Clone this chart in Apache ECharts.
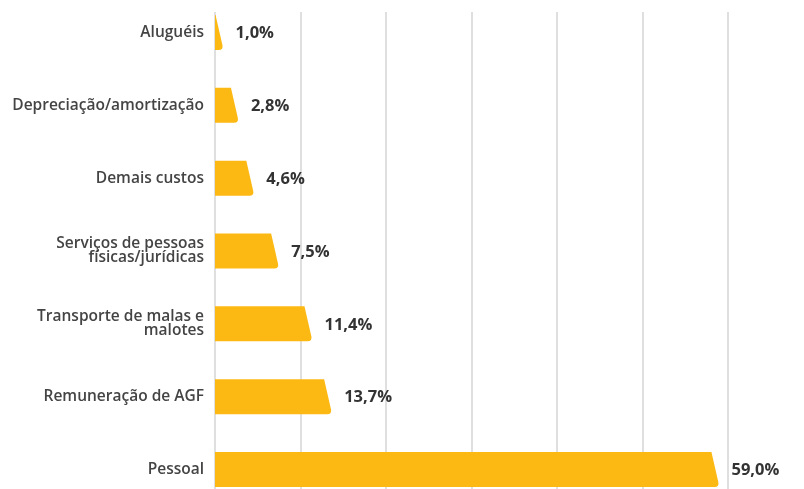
<!DOCTYPE html>
<html>
<head>
<meta charset="utf-8">
<script src="https://cdn.jsdelivr.net/npm/echarts@6/dist/echarts.min.js"></script>
<style>html,body{margin:0;padding:0;background:#fff;overflow:hidden;width:804px;height:489px;position:relative;}#c{position:absolute;left:0;top:-4px;width:804px;height:520px;}</style>
</head>
<body>
<div id="c"></div>
<script>
const categories = [
  'Aluguéis',
  'Depreciação/amortização',
  'Demais custos',
  'Serviços de pessoas\nfísicas/jurídicas',
  'Transporte de malas e\nmalotes',
  'Remuneração de AGF',
  'Pessoal'
];
const values = [1.0, 2.8, 4.6, 7.5, 11.4, 13.7, 59.0];
const xTicks = [0, 10, 20, 30, 40, 50, 60];

const chart = echarts.init(document.getElementById('c'), null, {renderer: 'canvas'});
const BAR_COLOR = '#FDB913';

function renderItem(params, api) {
  const cat = api.value(0);
  const val = api.value(1);
  const start = api.coord([0, cat]);
  const end = api.coord([val, cat]);
  const h = 35;
  const top = start[1] - h / 2;
  const bottom = start[1] + h / 2;
  const x0 = start[0];
  const xe = end[0];
  const s = Math.min(8, xe - x0);
  const r = 5;
  const xr = xe - s * r / h;
  const path = 'M' + x0 + ' ' + top +
    ' L' + (xe - s) + ' ' + top +
    ' L' + xr + ' ' + (bottom - r) +
    ' Q' + xe + ' ' + bottom + ' ' + (xe - r) + ' ' + bottom +
    ' L' + x0 + ' ' + bottom + ' Z';
  return {
    type: 'group',
    children: [
      {
        type: 'path',
        shape: {pathData: path},
        style: {fill: BAR_COLOR}
      },
      {
        type: 'text',
        x: xe + 12,
        y: start[1] + 1,
        style: {
          text: val.toFixed(1).replace('.', ',') + '%',
          font: 'bold 16.5px "Open Sans", sans-serif',
          fill: '#333',
          verticalAlign: 'middle',
          align: 'left'
        }
      }
    ]
  };
}

chart.setOption({
  animation: false,
  backgroundColor: '#fff',
  grid: {left: 215, right: 76, top: 0, height: 510, containLabel: false},
  xAxis: {
    type: 'value',
    min: xTicks[0],
    max: xTicks[xTicks.length - 1],
    interval: xTicks[1] - xTicks[0],
    axisLabel: {show: false},
    axisLine: {show: false},
    axisTick: {show: false},
    splitLine: {show: true, lineStyle: {color: '#d4d4d4', width: 1.5}}
  },
  yAxis: {
    type: 'category',
    inverse: true,
    data: categories,
    axisLine: {show: false},
    axisTick: {show: false},
    axisLabel: {
      margin: 11,
      color: '#444',
      fontSize: 15.5,
      fontWeight: 600,
      fontFamily: '"Open Sans", sans-serif',
      lineHeight: 14,
      align: 'right'
    }
  },
  graphic: [{
    type: 'rect',
    shape: {x: 205, y: 0, width: 600, height: 16},
    style: {fill: '#fff'},
    z: 100
  }],
  series: [{
    type: 'custom',
    renderItem: renderItem,
    encode: {x: 1, y: 0},
    data: values.map((v, i) => [i, v])
  }]
});
</script>
</body>
</html>
